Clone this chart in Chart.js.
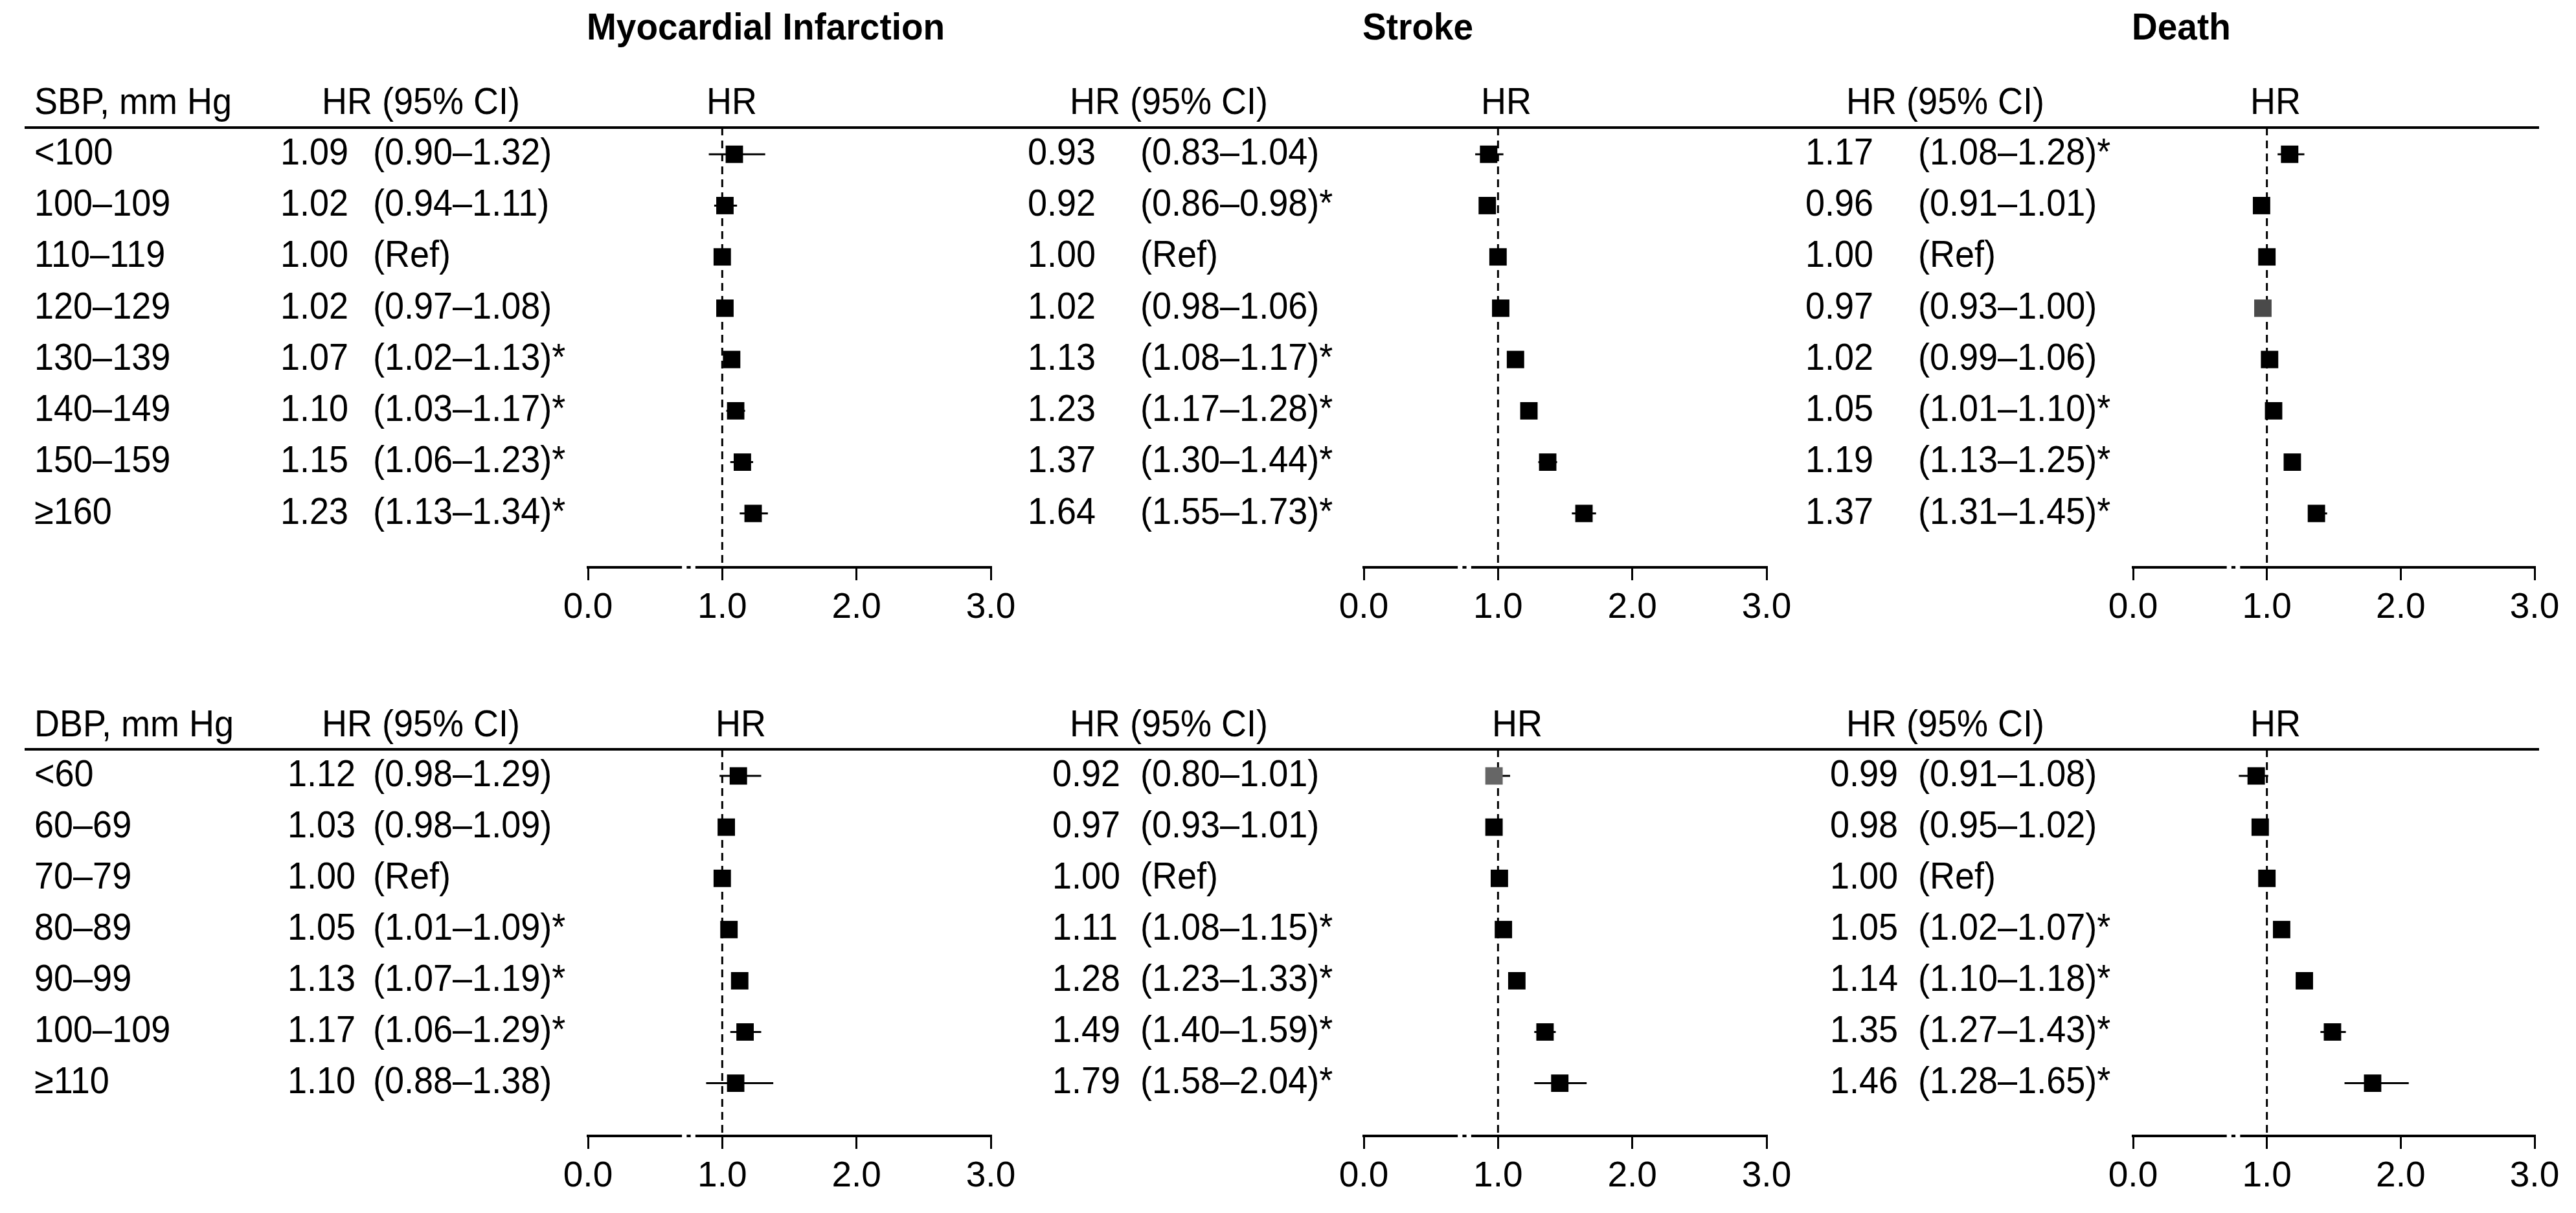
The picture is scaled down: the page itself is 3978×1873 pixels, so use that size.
<!DOCTYPE html>
<html>
<head>
<meta charset="utf-8">
<title>Blood pressure and outcomes</title>
<script src="https://cdn.jsdelivr.net/npm/chart.js@4.4.1/dist/chart.umd.min.js"></script>
<style>
  html, body { margin: 0; padding: 0; background: #fff; overflow: hidden; }
  #wrap { position: relative; width: 3978px; height: 1873px; }
  #wrap canvas { position: absolute; left: 0; }
</style>
</head>
<body>
<div id="wrap">
  <canvas id="mi-sbp" width="3978" height="1000" style="top:0"></canvas>
  <canvas id="st-sbp" width="3978" height="1000" style="top:0"></canvas>
  <canvas id="de-sbp" width="3978" height="1000" style="top:0"></canvas>
  <canvas id="mi-dbp" width="3978" height="873" style="top:1000px"></canvas>
  <canvas id="st-dbp" width="3978" height="873" style="top:1000px"></canvas>
  <canvas id="de-dbp" width="3978" height="873" style="top:1000px"></canvas>
</div>
<script>
// Row categories
const sbpLabels = ['<100', '100–109', '110–119', '120–129', '130–139', '140–149', '150–159', '≥160'];
const dbpLabels = ['<60', '60–69', '70–79', '80–89', '90–99', '100–109', '≥110'];
const xTicks = [0, 1, 2, 3];
const refHR = 1;

// Printed HR and CI columns
const miSbpText = ['1.09', '1.02', '1.00', '1.02', '1.07', '1.10', '1.15', '1.23'];
const miSbpCI = ['(0.90–1.32)', '(0.94–1.11)', '(Ref)', '(0.97–1.08)', '(1.02–1.13)*', '(1.03–1.17)*', '(1.06–1.23)*', '(1.13–1.34)*'];
const stSbpText = ['0.93', '0.92', '1.00', '1.02', '1.13', '1.23', '1.37', '1.64'];
const stSbpCI = ['(0.83–1.04)', '(0.86–0.98)*', '(Ref)', '(0.98–1.06)', '(1.08–1.17)*', '(1.17–1.28)*', '(1.30–1.44)*', '(1.55–1.73)*'];
const deSbpText = ['1.17', '0.96', '1.00', '0.97', '1.02', '1.05', '1.19', '1.37'];
const deSbpCI = ['(1.08–1.28)*', '(0.91–1.01)', '(Ref)', '(0.93–1.00)', '(0.99–1.06)', '(1.01–1.10)*', '(1.13–1.25)*', '(1.31–1.45)*'];
const miDbpText = ['1.12', '1.03', '1.00', '1.05', '1.13', '1.17', '1.10'];
const miDbpCI = ['(0.98–1.29)', '(0.98–1.09)', '(Ref)', '(1.01–1.09)*', '(1.07–1.19)*', '(1.06–1.29)*', '(0.88–1.38)'];
const stDbpText = ['0.92', '0.97', '1.00', '1.11', '1.28', '1.49', '1.79'];
const stDbpCI = ['(0.80–1.01)', '(0.93–1.01)', '(Ref)', '(1.08–1.15)*', '(1.23–1.33)*', '(1.40–1.59)*', '(1.58–2.04)*'];
const deDbpText = ['0.99', '0.98', '1.00', '1.05', '1.14', '1.35', '1.46'];
const deDbpCI = ['(0.91–1.08)', '(0.95–1.02)', '(Ref)', '(1.02–1.07)*', '(1.10–1.18)*', '(1.27–1.43)*', '(1.28–1.65)*'];

// Plotted marks (as drawn in the figure)
const miSbpHR = [1.09, 1.02, 1.00, 1.02, 1.07, 1.10, 1.15, 1.23];
const miSbpLo = [0.90, 0.94, 1.00, 0.97, 1.02, 1.03, 1.06, 1.13];
const miSbpHi = [1.32, 1.11, 1.00, 1.08, 1.13, 1.17, 1.23, 1.34];
const stSbpHR = [0.93, 0.92, 1.00, 1.02, 1.13, 1.23, 1.37, 1.64];
const stSbpLo = [0.83, 0.86, 1.00, 0.98, 1.08, 1.17, 1.30, 1.55];
const stSbpHi = [1.04, 0.98, 1.00, 1.06, 1.17, 1.28, 1.44, 1.73];
const deSbpHR = [1.17, 0.96, 1.00, 0.97, 1.02, 1.05, 1.19, 1.37];
const deSbpLo = [1.08, 0.91, 1.00, 0.93, 0.99, 1.01, 1.13, 1.31];
const deSbpHi = [1.28, 1.01, 1.00, 1.00, 1.06, 1.10, 1.25, 1.45];
const miDbpHR = [1.12, 1.03, 1.00, 1.05, 1.13, 1.17, 1.10];
const miDbpLo = [0.98, 0.98, 1.00, 1.01, 1.07, 1.06, 0.88];
const miDbpHi = [1.29, 1.09, 1.00, 1.09, 1.19, 1.29, 1.38];
const stDbpHR = [0.97, 0.97, 1.01, 1.04, 1.14, 1.35, 1.46];
const stDbpLo = [0.91, 0.95, 1.01, 1.02, 1.10, 1.27, 1.27];
const stDbpHi = [1.09, 1.02, 1.01, 1.07, 1.18, 1.43, 1.66];
const deDbpHR = [0.92, 0.95, 1.00, 1.11, 1.28, 1.49, 1.79];
const deDbpLo = [0.79, 0.93, 1.00, 1.08, 1.23, 1.40, 1.58];
const deDbpHi = [1.01, 1.01, 1.00, 1.15, 1.33, 1.59, 2.06];

// Box colours (two boxes are drawn grey)
const deSbpColors = ['#000', '#000', '#000', '#4a4a4a', '#000', '#000', '#000', '#000'];
const stDbpColors = ['#666', '#000', '#000', '#000', '#000', '#000', '#000'];

const FONT = '"Liberation Sans", Arial, Helvetica, sans-serif';

// text in the source is a touch taller than plain Arial
function tallText(ctx, t, x, y) {
  ctx.save();
  ctx.translate(x, y);
  ctx.scale(1, 1.06);
  ctx.fillText(t, 0, 0);
  ctx.restore();
}

const forestPlugin = {
  id: 'forest',
  beforeDatasetsDraw(chart, args, o) {
    const { ctx, chartArea, scales: { x, y } } = chart;
    ctx.save();
    ctx.strokeStyle = '#000';
    // reference line
    const rx = x.getPixelForValue(o.ref);
    ctx.lineWidth = 3;
    ctx.setLineDash([12, 8]);
    ctx.beginPath();
    ctx.moveTo(rx, chartArea.top);
    ctx.lineTo(rx, chartArea.bottom);
    ctx.stroke();
    ctx.setLineDash([]);
    // confidence intervals
    ctx.lineWidth = 3;
    o.lo.forEach((lo, i) => {
      const py = y.getPixelForValue(i);
      ctx.beginPath();
      ctx.moveTo(x.getPixelForValue(lo), py);
      ctx.lineTo(x.getPixelForValue(o.hi[i]), py);
      ctx.stroke();
    });
    ctx.restore();
  },
  afterDraw(chart, args, o) {
    const { ctx, chartArea, scales: { x, y } } = chart;
    ctx.save();
    ctx.fillStyle = '#000';
    ctx.textBaseline = 'middle';
    ctx.textAlign = 'left';

    if (o.title) {
      ctx.font = 'bold 55px ' + FONT;
      tallText(ctx, o.title, chartArea.left - 2, o.titleY);
    }

    ctx.font = '54px ' + FONT;
    if (o.rowHeader) tallText(ctx, o.rowHeader, o.labelX, o.headerY);
    tallText(ctx, 'HR (95% CI)', o.headX, o.headerY);
    tallText(ctx, 'HR', o.hrHeadX, o.headerY);

    o.hrText.forEach((t, i) => {
      const py = y.getPixelForValue(i);
      if (o.rows) tallText(ctx, o.rows[i], o.labelX, py);
      tallText(ctx, t, o.hrX, py);
      tallText(ctx, o.ciText[i], o.ciX, py);
    });

    // header rule
    if (o.ruleFrom !== undefined) {
      ctx.fillRect(o.ruleFrom, chartArea.top - 2, o.ruleTo - o.ruleFrom, 4);
    }

    // small break in the axis line
    const b0 = x.getPixelForValue(0.70), b1 = x.getPixelForValue(0.80);
    const ay = chartArea.bottom;
    ctx.fillStyle = '#fff';
    ctx.fillRect(b0, ay - 4, b1 - b0, 8);
    ctx.fillStyle = '#000';
    const m0 = x.getPixelForValue(0.735), m1 = x.getPixelForValue(0.765);
    ctx.fillRect(m0, ay - 2, m1 - m0, 4);
    ctx.restore();
  }
};

function makePanel(id, p) {
  const pts = p.hr.map((v, i) => ({ x: v, y: i }));
  return new Chart(document.getElementById(id), {
    type: 'scatter',
    data: {
      datasets: [{
        data: pts,
        pointStyle: 'rect',
        pointRadius: 19,
        pointHoverRadius: 19,
        backgroundColor: p.colors || '#000',
        borderWidth: 0
      }]
    },
    options: {
      responsive: false,
      animation: false,
      devicePixelRatio: 1,
      events: [],
      layout: {
        padding: { left: p.left, right: 3978 - p.right, top: p.top, bottom: p.bottom }
      },
      plugins: {
        legend: { display: false },
        tooltip: { enabled: false },
        forest: p.text
      },
      scales: {
        x: {
          type: 'linear',
          min: xTicks[0],
          max: xTicks[xTicks.length - 1],
          afterFit: function(scale) { scale.height = 110; },
          afterBuildTicks: function(scale) { scale.ticks = xTicks.map(v => ({ value: v })); },
          ticks: {
            callback: v => v.toFixed(1),
            color: '#000',
            font: { family: FONT, size: 55 },
            padding: 10,
            maxRotation: 0,
            autoSkip: false
          },
          grid: { drawOnChartArea: false, drawTicks: true, tickLength: 20, lineWidth: 3, color: '#000' },
          border: { display: true, width: 4, color: '#000' }
        },
        y: { type: 'linear', display: false, reverse: true, min: p.yMin, max: p.yMax }
      }
    },
    plugins: [forestPlugin]
  });
}

const topRows = { top: 197, bottom: 14, yMin: -0.52, yMax: 8.05 };
const botRows = { top: 157, bottom: 9, yMin: -0.52, yMax: 7.03 };

makePanel('mi-sbp', Object.assign({}, topRows, {
  left: 908, right: 1530, hr: miSbpHR,
  text: { title: 'Myocardial Infarction', titleY: 45, headerY: 160, rowHeader: 'SBP, mm Hg', rows: sbpLabels,
    labelX: 53, headX: 497, hrHeadX: 1091, hrX: 433, ciX: 576, hrText: miSbpText, ciText: miSbpCI,
    lo: miSbpLo, hi: miSbpHi, ref: refHR, ruleFrom: 38, ruleTo: 3921 }
}));
makePanel('st-sbp', Object.assign({}, topRows, {
  left: 2106, right: 2728, hr: stSbpHR,
  text: { title: 'Stroke', titleY: 45, headerY: 160, headX: 1652, hrHeadX: 2287, hrX: 1587, ciX: 1761,
    hrText: stSbpText, ciText: stSbpCI, lo: stSbpLo, hi: stSbpHi, ref: refHR }
}));
makePanel('de-sbp', Object.assign({}, topRows, {
  left: 3294, right: 3914, hr: deSbpHR, colors: deSbpColors,
  text: { title: 'Death', titleY: 45, headerY: 160, headX: 2851, hrHeadX: 3475, hrX: 2788, ciX: 2962,
    hrText: deSbpText, ciText: deSbpCI, lo: deSbpLo, hi: deSbpHi, ref: refHR }
}));
makePanel('mi-dbp', Object.assign({}, botRows, {
  left: 908, right: 1530, hr: miDbpHR,
  text: { headerY: 121, rowHeader: 'DBP, mm Hg', rows: dbpLabels,
    labelX: 53, headX: 497, hrHeadX: 1105, hrX: 444, ciX: 576, hrText: miDbpText, ciText: miDbpCI,
    lo: miDbpLo, hi: miDbpHi, ref: refHR, ruleFrom: 38, ruleTo: 3921 }
}));
makePanel('st-dbp', Object.assign({}, botRows, {
  left: 2106, right: 2728, hr: stDbpHR, colors: stDbpColors,
  text: { headerY: 121, headX: 1652, hrHeadX: 2304, hrX: 1625, ciX: 1761,
    hrText: stDbpText, ciText: stDbpCI, lo: stDbpLo, hi: stDbpHi, ref: refHR }
}));
makePanel('de-dbp', Object.assign({}, botRows, {
  left: 3294, right: 3914, hr: deDbpHR,
  text: { headerY: 121, headX: 2851, hrHeadX: 3475, hrX: 2826, ciX: 2962,
    hrText: deDbpText, ciText: deDbpCI, lo: deDbpLo, hi: deDbpHi, ref: refHR }
}));
</script>
</body>
</html>
